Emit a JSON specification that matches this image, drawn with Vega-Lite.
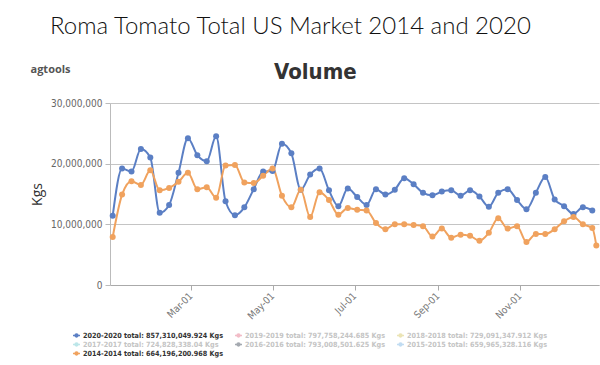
{
  "$schema": "https://vega.github.io/schema/vega-lite/v6.json",
  "background": "white",
  "padding": {"left": 30, "top": 15, "right": 5, "bottom": 5},
  "config": {"view": {"stroke": null}, "concat": {"spacing": 0}},
  "title": {
    "text": "\u200b\u00a0\u00a0\u00a0Roma Tomato Total US Market 2014 and 2020",
    "subtitle": "agtools",
    "anchor": "start",
    "frame": "bounds",
    "font": "Lato",
    "fontWeight": 300,
    "fontSize": 24,
    "color": "#111111",
    "subtitleFont": "Open Sans",
    "subtitleFontSize": 11,
    "subtitleFontWeight": "bold",
    "subtitleColor": "#555555",
    "subtitlePadding": 25,
    "dx": 0,
    "offset": -14
  },
  "vconcat": [
    {
      "title": {"text": "Volume", "anchor": "middle", "frame": "bounds", "font": "DejaVu Sans Condensed", "fontWeight": "bold", "fontSize": 22, "color": "#333333", "offset": 14},
      "width": 489,
      "height": 182,
      "data": {
        "values": [
          {"date": "2020-01-03", "2020-2020": 11400000, "2014-2014": 7900000},
          {"date": "2020-01-10", "2020-2020": 19200000, "2014-2014": 14900000},
          {"date": "2020-01-17", "2020-2020": 18700000, "2014-2014": 17100000},
          {"date": "2020-01-24", "2020-2020": 22400000, "2014-2014": 16500000},
          {"date": "2020-01-31", "2020-2020": 21000000, "2014-2014": 18900000},
          {"date": "2020-02-07", "2020-2020": 11900000, "2014-2014": 15600000},
          {"date": "2020-02-14", "2020-2020": 13200000, "2014-2014": 16000000},
          {"date": "2020-02-21", "2020-2020": 18500000, "2014-2014": 17000000},
          {"date": "2020-02-28", "2020-2020": 24200000, "2014-2014": 18500000},
          {"date": "2020-03-06", "2020-2020": 21400000, "2014-2014": 15800000},
          {"date": "2020-03-13", "2020-2020": 20400000, "2014-2014": 16100000},
          {"date": "2020-03-20", "2020-2020": 24500000, "2014-2014": 14400000},
          {"date": "2020-03-27", "2020-2020": 13800000, "2014-2014": 19700000},
          {"date": "2020-04-03", "2020-2020": 11500000, "2014-2014": 19800000},
          {"date": "2020-04-10", "2020-2020": 12800000, "2014-2014": 16900000},
          {"date": "2020-04-17", "2020-2020": 15800000, "2014-2014": 16800000},
          {"date": "2020-04-24", "2020-2020": 18700000, "2014-2014": 18000000},
          {"date": "2020-05-01", "2020-2020": 18800000, "2014-2014": 19200000},
          {"date": "2020-05-08", "2020-2020": 23300000, "2014-2014": 14700000},
          {"date": "2020-05-15", "2020-2020": 21700000, "2014-2014": 12800000},
          {"date": "2020-05-22", "2020-2020": 15700000, "2014-2014": 15700000},
          {"date": "2020-05-29", "2020-2020": 18200000, "2014-2014": 11200000},
          {"date": "2020-06-05", "2020-2020": 19200000, "2014-2014": 15300000},
          {"date": "2020-06-12", "2020-2020": 15600000, "2014-2014": 14000000},
          {"date": "2020-06-19", "2020-2020": 13000000, "2014-2014": 11600000},
          {"date": "2020-06-26", "2020-2020": 15900000, "2014-2014": 12700000},
          {"date": "2020-07-03", "2020-2020": 14500000, "2014-2014": 12400000},
          {"date": "2020-07-10", "2020-2020": 13200000, "2014-2014": 12300000},
          {"date": "2020-07-17", "2020-2020": 15800000, "2014-2014": 10200000},
          {"date": "2020-07-24", "2020-2020": 14900000, "2014-2014": 9200000},
          {"date": "2020-07-31", "2020-2020": 15700000, "2014-2014": 10000000},
          {"date": "2020-08-07", "2020-2020": 17600000, "2014-2014": 10000000},
          {"date": "2020-08-14", "2020-2020": 16600000, "2014-2014": 9900000},
          {"date": "2020-08-21", "2020-2020": 15200000, "2014-2014": 9700000},
          {"date": "2020-08-28", "2020-2020": 14800000, "2014-2014": 8000000},
          {"date": "2020-09-04", "2020-2020": 15400000, "2014-2014": 9300000},
          {"date": "2020-09-11", "2020-2020": 15600000, "2014-2014": 7800000},
          {"date": "2020-09-18", "2020-2020": 14700000, "2014-2014": 8300000},
          {"date": "2020-09-25", "2020-2020": 15600000, "2014-2014": 8100000},
          {"date": "2020-10-02", "2020-2020": 14600000, "2014-2014": 7300000},
          {"date": "2020-10-09", "2020-2020": 12900000, "2014-2014": 8600000},
          {"date": "2020-10-16", "2020-2020": 15200000, "2014-2014": 11000000},
          {"date": "2020-10-23", "2020-2020": 15800000, "2014-2014": 9300000},
          {"date": "2020-10-30", "2020-2020": 14000000, "2014-2014": 9700000},
          {"date": "2020-11-06", "2020-2020": 12500000, "2014-2014": 7100000},
          {"date": "2020-11-13", "2020-2020": 15200000, "2014-2014": 8400000},
          {"date": "2020-11-20", "2020-2020": 17800000, "2014-2014": 8400000},
          {"date": "2020-11-27", "2020-2020": 14100000, "2014-2014": 9200000},
          {"date": "2020-12-04", "2020-2020": 13000000, "2014-2014": 10500000},
          {"date": "2020-12-11", "2020-2020": 11700000, "2014-2014": 11200000},
          {"date": "2020-12-18", "2020-2020": 12800000, "2014-2014": 10000000},
          {"date": "2020-12-25", "2020-2020": 12300000, "2014-2014": 9400000},
          {"date": "2020-12-28", "2020-2020": null, "2014-2014": 6500000}
        ]
      },
      "transform": [
        {"fold": ["2020-2020", "2014-2014"], "as": ["series", "kgs"]},
        {"filter": "isValid(datum.kgs)"}
      ],
      "mark": {"type": "line", "interpolate": "monotone", "strokeWidth": 2, "point": {"filled": true, "size": 36}},
      "encoding": {
        "x": {
          "field": "date",
          "type": "temporal",
          "scale": {"type": "utc", "domain": [{"year": 2020, "month": 1, "date": 1, "utc": true}, {"year": 2020, "month": 12, "date": 30, "utc": true}]},
          "axis": {
            "title": null,
            "grid": false,
            "values": [
              {"year": 2020, "month": 3, "date": 1, "utc": true},
              {"year": 2020, "month": 5, "date": 1, "utc": true},
              {"year": 2020, "month": 7, "date": 1, "utc": true},
              {"year": 2020, "month": 9, "date": 1, "utc": true},
              {"year": 2020, "month": 11, "date": 1, "utc": true}
            ],
            "format": "%b-%d",
            "labelAngle": -45,
            "labelAlign": "right",
            "labelBaseline": "middle",
            "labelPadding": 4,
            "labelFont": "DejaVu Sans Condensed",
            "labelFontSize": 10,
            "labelColor": "#777777",
            "domainColor": "#aaaaaa",
            "tickColor": "#aaaaaa",
            "tickSize": 5
          }
        },
        "y": {
          "field": "kgs",
          "type": "quantitative",
          "scale": {"domain": [0, 30000000], "nice": false},
          "axis": {
            "values": [0, 10000000, 20000000, 30000000],
            "format": ",d",
            "title": "Kgs",
            "titleFont": "Open Sans",
            "titleFontSize": 14,
            "titleFontWeight": "normal",
            "titleColor": "#333333",
            "titlePadding": 6,
            "labelFont": "DejaVu Sans Condensed",
            "labelFontSize": 10,
            "labelColor": "#666666",
            "labelPadding": 3,
            "domainColor": "#bbbbbb",
            "tickColor": "#bbbbbb",
            "tickSize": 5,
            "grid": true,
            "gridColor": "#c4c4c4"
          }
        },
        "color": {
          "field": "series",
          "type": "nominal",
          "scale": {
            "domain": ["2020-2020", "2019-2019", "2018-2018", "2017-2017", "2016-2016", "2015-2015", "2014-2014"],
            "range": ["#5b7fc4", "#e8869a", "#dccf7a", "#86d3d8", "#5a6470", "#8fc1e8", "#f0a25e"]
          },
          "legend": {
            "title": null,
            "orient": "none",
            "legendX": -38,
            "legendY": 228,
            "direction": "horizontal",
            "columns": 3,
            "gridAlign": "none",
            "columnPadding": 8,
            "rowPadding": 0,
            "labelFont": "DejaVu Sans Condensed",
            "labelFontSize": 7.2,
            "labelFontWeight": "bold",
            "labelLimit": 400,
            "labelOffset": 2,
            "symbolType": "M-1,0H1M0.4,0A0.4,0.4,0,1,1,-0.4,0A0.4,0.4,0,1,1,0.4,0",
            "symbolSize": 49,
            "symbolStrokeWidth": 1.5,
            "labelExpr": "datum.value == '2020-2020' ? '2020-2020 total: 857,310,049.924 Kgs' : datum.value == '2019-2019' ? '2019-2019 total: 797,758,244.685 Kgs' : datum.value == '2018-2018' ? '2018-2018 total: 729,091,347.912 Kgs' : datum.value == '2017-2017' ? '2017-2017 total: 724,828,338.04 Kgs' : datum.value == '2016-2016' ? '2016-2016 total: 793,008,501.625 Kgs' : datum.value == '2015-2015' ? '2015-2015 total: 659,965,328.116 Kgs' : '2014-2014 total: 664,196,200.968 Kgs'",
            "encode": {
              "labels": {"update": {"fill": [{"test": "datum.value == '2020-2020' || datum.value == '2014-2014'", "value": "#333333"}, {"value": "#c4c4c4"}]}},
              "symbols": {"update": {"fill": {"scale": "color", "field": "value"}, "stroke": {"scale": "color", "field": "value"}, "opacity": [{"test": "datum.value == '2020-2020' || datum.value == '2014-2014'", "value": 1}, {"value": 0.55}]}}
            }
          }
        }
      }
    }
  ]
}
